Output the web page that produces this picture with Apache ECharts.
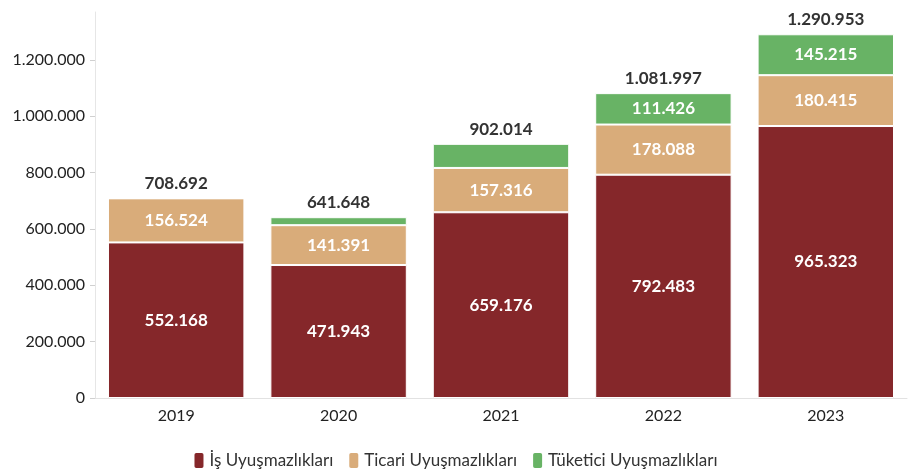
<!DOCTYPE html>
<html><head><meta charset="utf-8">
<script src="https://cdn.jsdelivr.net/npm/echarts@6/dist/echarts.min.js"></script>
<style>html,body{margin:0;padding:0;background:#fff}#c{width:910px;height:474px}</style>
</head><body><div id="c"></div>
<script>
var years = ['2019','2020','2021','2022','2023'];
var isData = [552168, 471943, 659176, 792483, 965323];
var ticariData = [156524, 141391, 157316, 178088, 180415];
var tuketiciData = [0, 28314, 85522, 111426, 145215];
var totals = [708692, 641648, 902014, 1081997, 1290953];
var yTicks = [0, 200000, 400000, 600000, 800000, 1000000, 1200000];
var seriesNames = ['İş Uyuşmazlıkları', 'Ticari Uyuşmazlıkları', 'Tüketici Uyuşmazlıkları'];
var colors = ['#85272a', '#d9ac7a', '#68b365'];

function fmt(v){ return String(Math.round(v)).replace(/\B(?=(\d{3})+(?!\d))/g, '.'); }
var FONT = 'Lato';
var chart = echarts.init(document.getElementById('c'), null, {renderer:'canvas'});
function segLabel(){
  return {show:true, position:'inside', color:'#fff', fontFamily:FONT, fontWeight:'bold', fontSize:17,
    formatter:function(p){ return p.value >= 100000 ? fmt(p.value) : ''; }};
}
var series = [isData, ticariData, tuketiciData].map(function(d,i){
  return {name:seriesNames[i], type:'bar', stack:'t', data:d, barCategoryGap:'16%',
    itemStyle:{color:colors[i], borderColor:'#fff', borderWidth:1},
    label:segLabel()};
});
series.push({name:'Toplam', type:'bar', stack:'t', data:totals.map(function(){return 0;}),
  itemStyle:{color:'transparent'}, silent:true,
  label:{show:true, position:'top', distance:6, color:'#333', fontFamily:FONT, fontWeight:'bold', fontSize:17,
    formatter:function(p){ return fmt(totals[p.dataIndex]); }}});
chart.setOption({
  animation:false,
  color:colors,
  grid:{left:95, right:3, top:12, bottom:76, containLabel:false},
  legend:{data:seriesNames, bottom:-1, left:'center', icon:'roundRect', itemWidth:11, itemHeight:17, itemGap:14,
    textStyle:{fontFamily:FONT, fontSize:17, color:'#333'}},
  xAxis:{type:'category', data:years,
    axisLine:{lineStyle:{color:'#e2e2e2'}},
    axisTick:{alignWithLabel:true, length:5, lineStyle:{color:'#d0d0d0'}},
    axisLabel:{color:'#222', fontFamily:FONT, fontSize:16, margin:10}},
  yAxis:{type:'value', min:0, max:1370000,
    axisLine:{show:true, lineStyle:{color:'#e6e6e6'}},
    axisTick:{show:true, length:5, customValues:yTicks, lineStyle:{color:'#d0d0d0'}},
    splitLine:{show:false},
    axisLabel:{customValues:yTicks, color:'#222', fontFamily:FONT, fontSize:16, margin:10, formatter:function(v){return fmt(v);}}},
  series:series
});
</script></body></html>
